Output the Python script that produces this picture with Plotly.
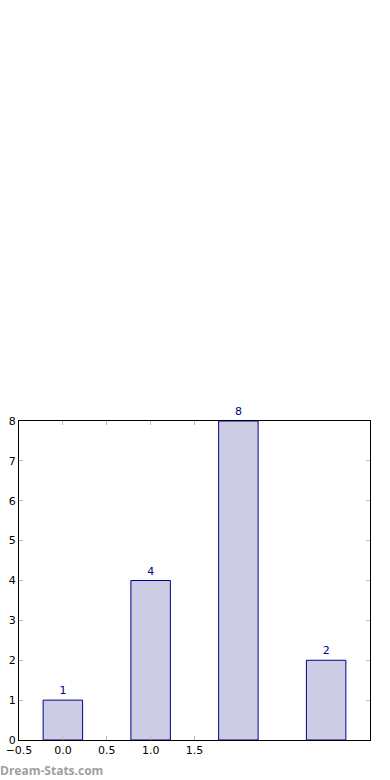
import plotly.graph_objects as go

categories = [0, 1, 2, 3]
values = [1, 4, 8, 2]
x_tick_vals = [-0.5, 0.0, 0.5, 1.0, 1.5]
x_tick_text = ["\u22120.5", "0.0", "0.5", "1.0", "1.5"]
y_tick_vals = [0, 1, 2, 3, 4, 5, 6, 7, 8]

fig = go.Figure()
fig.add_trace(go.Bar(
    x=categories, y=values, width=0.45,
    marker=dict(color="#ccccE4", line=dict(color="#00008b", width=1)),
    text=[str(v) for v in values], textposition="outside",
    textfont=dict(color="#00008b", size=11, family="DejaVu Sans"),
    cliponaxis=False,
))
fig.update_layout(
    width=390, height=780,
    margin=dict(l=19, r=20, t=421, b=40, autoexpand=False),
    paper_bgcolor="white", plot_bgcolor="white",
    showlegend=False,
    font=dict(family="DejaVu Sans", size=11, color="black"),
    xaxis=dict(range=[-0.5, 3.5], tickvals=x_tick_vals, ticktext=x_tick_text,
               ticks="inside", ticklen=4, tickcolor="#bbbbbb", mirror="ticks",
               showline=True, linecolor="black", linewidth=1, showgrid=False,
               zeroline=False, automargin=False, tickfont=dict(size=11, color="black")),
    yaxis=dict(range=[0, 8], tickvals=y_tick_vals,
               ticks="inside", ticklen=4, tickcolor="#bbbbbb", mirror="ticks",
               showline=True, linecolor="black", linewidth=1, showgrid=False,
               zeroline=False, automargin=False, tickfont=dict(size=11, color="black")),
)
fig.add_annotation(text="<b>Dream-Stats.com</b>", xref="paper", yref="paper",
                   x=0, y=0, xanchor="left", yanchor="top", yshift=-20, xshift=-21,
                   showarrow=False, font=dict(size=12, color="#a0a0a0", family="Open Sans"))
fig.write_html("out.html")
